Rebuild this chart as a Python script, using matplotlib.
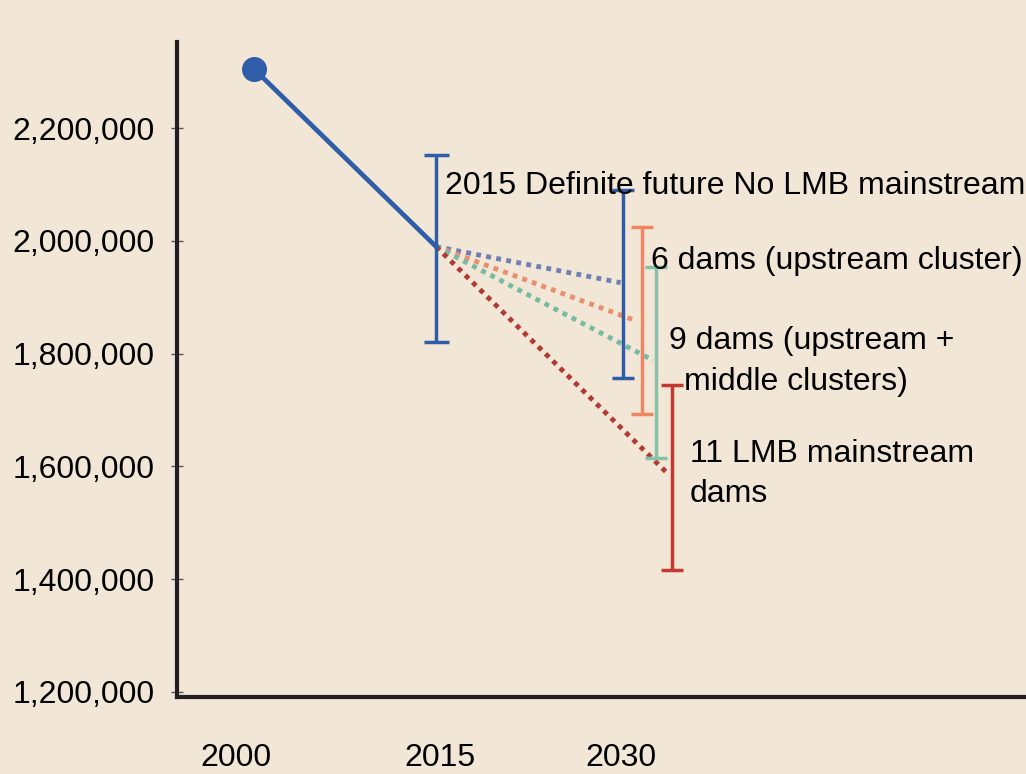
import matplotlib.pyplot as plt

# historical series
hist_years = [2000, 2015]
hist_values = [2305000, 1990000]

# 2015 uncertainty range
range_2015 = [1820000, 2152000]

# 2030 scenarios (x positions are slightly staggered around 2030)
scenario_names = ['2015 Definite future No LMB mainstream',
                  '6 dams (upstream cluster)',
                  '9 dams (upstream +\nmiddle clusters)',
                  '11 LMB mainstream\ndams']
line_end_x = [2030.2, 2031.4, 2032.9, 2034.1]
scenario_values = [1926000, 1859000, 1788000, 1587000]
bar_x = [2030.4, 2032.0, 2033.1, 2034.45]
bar_low = [1757000, 1693000, 1615000, 1416000]
bar_high = [2091000, 2024000, 1953000, 1745000]

line_colors = ['#6f80b4', '#e8906e', '#78bba3', '#b23a34']
bar_colors = ['#2f5da8', '#ef8565', '#86c2aa', '#c43a30']

y_ticks = [1200000, 1400000, 1600000, 1800000, 2000000, 2200000]
x_tick_pos = [1998.5, 2015.3, 2030.2]
x_tick_labels = ['2000', '2015', '2030']

bg = '#f2e7d6'
plt.rcParams['font.family'] = ['Liberation Sans', 'DejaVu Sans']

fig = plt.figure(figsize=(10.26, 7.74), dpi=100, facecolor=bg)
ax = fig.add_axes([177 / 1026, 77 / 774, 1 - 177 / 1026, (697 - 42) / 774])
ax.set_facecolor(bg)

# dotted scenario lines from 2015
for i in range(len(scenario_values)):
    ax.plot([hist_years[1], line_end_x[i]], [hist_values[1], scenario_values[i]],
            color=line_colors[i], lw=3.5, linestyle=(0, (1, 1.1)), zorder=2)

# error bars
ax.errorbar([hist_years[1]], [sum(range_2015) / 2],
            yerr=[[sum(range_2015) / 2 - range_2015[0]], [range_2015[1] - sum(range_2015) / 2]],
            fmt='none', ecolor='#2f5da8', elinewidth=2.5, capsize=9, capthick=2.5, zorder=3)
for i in range(len(bar_x)):
    mid = (bar_low[i] + bar_high[i]) / 2
    ax.errorbar([bar_x[i]], [mid], yerr=[[mid - bar_low[i]], [bar_high[i] - mid]],
                fmt='none', ecolor=bar_colors[i], elinewidth=2.5, capsize=8, capthick=2.5, zorder=3)

# historical line
ax.plot(hist_years, hist_values, color='#2f5da8', lw=3.4, zorder=4)
ax.plot(hist_years[0], hist_values[0], 'o', color='#2f5da8', ms=17, zorder=5)

# labels
fs = 23
ax.text(2015.75, 2097000, scenario_names[0], fontsize=fs, va='center', ha='left', zorder=6)
ax.text(2032.7, 1964000, scenario_names[1], fontsize=fs, va='center', ha='left', zorder=6)
nine_a, nine_b = scenario_names[2].split('\n')
ax.text(2034.2, 1822000, nine_a, fontsize=fs, va='center', ha='left', zorder=6)
ax.text(2035.4, 1750000, nine_b, fontsize=fs, va='center', ha='left', zorder=6)
ax.text(2035.9, 1587000, scenario_names[3], fontsize=fs, va='center', ha='left',
        linespacing=1.45, zorder=6)

ax.set_xlim(1993.65, 2063.6)
ax.set_ylim(1191000, 2353000)
ax.set_yticks(y_ticks)
ax.set_yticklabels([f'{v:,}' for v in y_ticks], fontsize=fs)
ax.set_xticks(x_tick_pos)
ax.set_xticklabels(x_tick_labels, fontsize=fs)
ax.tick_params(axis='x', length=0, pad=33)
ax.tick_params(axis='y', direction='inout', length=8, width=1, color='#555555', pad=12)

for s in ['top', 'right']:
    ax.spines[s].set_visible(False)
for s in ['left', 'bottom']:
    ax.spines[s].set_linewidth(3)
    ax.spines[s].set_color('#231f20')

fig.savefig('out.png', dpi=100, facecolor=bg)
